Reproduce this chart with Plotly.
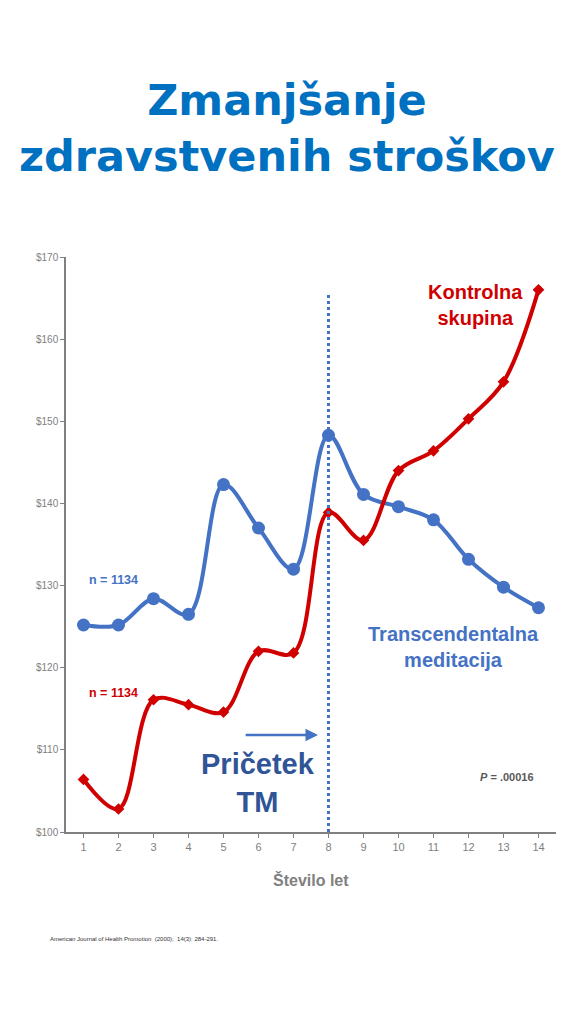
import plotly.graph_objects as go

years = list(range(1, 15))
tm = [125.2, 125.2, 128.4, 126.5, 142.3, 137.0, 132.0, 148.3, 141.1, 139.6, 138.0, 133.2, 129.8, 127.3]
ctrl = [106.4, 102.8, 116.1, 115.5, 114.6, 122.0, 121.8, 138.9, 135.5, 144.0, 146.4, 150.3, 154.8, 166.0]
yticks = [100, 110, 120, 130, 140, 150, 160, 170]

BLUE = "#4472C4"
RED = "#D00000"
GREY = "#808080"
FONT = "Liberation Sans, Arial"

fig = go.Figure()
fig.add_trace(go.Scatter(x=years, y=tm, mode="lines+markers", line=dict(color=BLUE, width=4, shape="spline", smoothing=1),
                         marker=dict(size=13, color=BLUE), showlegend=False))
fig.add_trace(go.Scatter(x=years, y=ctrl, mode="lines+markers", line=dict(color=RED, width=4, shape="spline", smoothing=1),
                         marker=dict(size=9, color=RED, symbol="diamond"), showlegend=False))
fig.add_trace(go.Scatter(x=[8, 8], y=[100, 165.6], mode="lines", line=dict(color=BLUE, width=3, dash="dot"), showlegend=False))

fig.add_annotation(x=7.7, y=111.8, ax=5.59, ay=111.8, xref="x", yref="y", axref="x", ayref="y",
                   showarrow=True, arrowhead=2, arrowsize=1, arrowwidth=2.5, arrowcolor=BLUE, text="")

def txt(x, y, t, size, color):
    fig.add_annotation(x=x, y=y, xref="x", yref="y", text=t, showarrow=False, xanchor="left",
                       font=dict(family=FONT, size=size, color=color))

txt(1.1, 130.7, "<b>n = 1134</b>", 12.5, BLUE)
txt(1.1, 116.9, "<b>n = 1134</b>", 12.5, RED)
fig.add_annotation(x=5.99, y=106.0, xref="x", yref="y", text="<b>Pričetek<br>TM</b>", showarrow=False,
                   font=dict(family=FONT, size=29, color="#2F5597"))
fig.add_annotation(x=12.19, y=164.2, xref="x", yref="y", text="<b>Kontrolna<br>skupina</b>", showarrow=False,
                   font=dict(family=FONT, size=20, color=RED))
fig.add_annotation(x=11.56, y=122.5, xref="x", yref="y", text="<b>Transcendentalna<br>meditacija</b>", showarrow=False,
                   font=dict(family=FONT, size=20, color=BLUE))
fig.add_annotation(x=13.1, y=106.7, xref="x", yref="y", text="<b><i>P</i> = .00016</b>", showarrow=False,
                   font=dict(family=FONT, size=11, color="#595959"))

fig.add_annotation(xref="paper", yref="paper", x=0.45, y=1.0, yshift=129, xanchor="center", yanchor="middle",
                   text="<b>Zmanjšanje<br>zdravstvenih stroškov</b>", showarrow=False,
                   font=dict(family="DejaVu Sans", size=43, color="#0070C0"))
fig.add_annotation(xref="paper", yref="paper", x=0.5, y=0, yshift=-59, xanchor="center",
                   text="<b>Število let</b>", showarrow=False, font=dict(family=FONT, size=16, color=GREY))
fig.add_annotation(xref="paper", yref="paper", x=-0.037, y=0, yshift=-112, xanchor="left",
                   text="American Journal of Health Promotion  (2000);  14(3): 284-291.", showarrow=False,
                   font=dict(family=FONT, size=6, color="#333333"))

fig.update_xaxes(range=[0.5, 14.5], tickvals=years, showgrid=False, zeroline=False, showline=True, linecolor=GREY,
                 linewidth=1.5, ticks="outside", ticklen=4, tickcolor=GREY,
                 tickfont=dict(family=FONT, size=11, color=GREY))
fig.update_yaxes(range=[100, 170], tickvals=yticks, ticktext=[f"${v}" for v in yticks], showgrid=False, zeroline=False,
                 showline=True, linecolor=GREY, linewidth=1.5, ticks="outside", ticklen=4, tickcolor=GREY,
                 tickfont=dict(family=FONT, size=10, color=GREY))
fig.update_layout(width=576, height=1024, margin=dict(l=58, r=28, t=249, b=200), plot_bgcolor="white",
                  paper_bgcolor="white")
fig.write_html("out.html")
